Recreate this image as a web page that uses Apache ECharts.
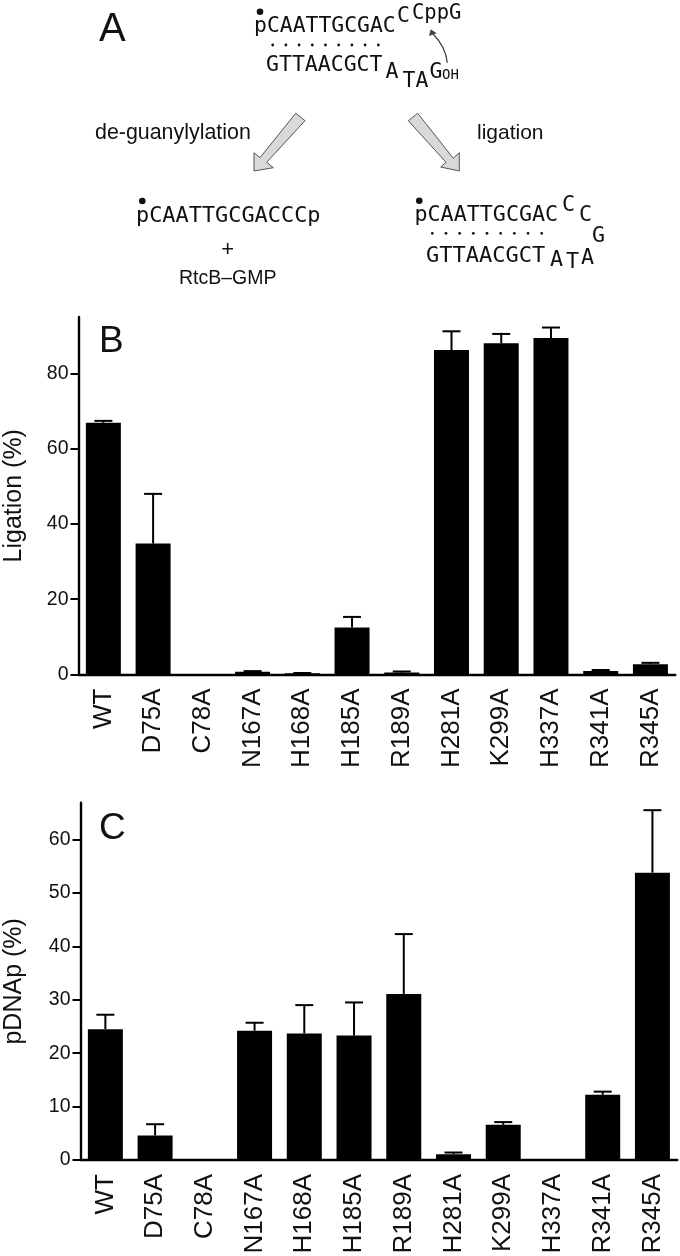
<!DOCTYPE html>
<html>
<head>
<meta charset="utf-8">
<style>html,body{margin:0;padding:0;background:#fff}#c{width:680px;height:1256px}</style>
<script src="https://cdn.jsdelivr.net/npm/echarts@6/dist/echarts.min.js"></script>
</head>
<body>
<div id="c"></div>
<script>
const categories = ['WT','D75A','C78A','N167A','H168A','H185A','R189A','H281A','K299A','H337A','R341A','R345A'];
const ligationMeans = [66.9,34.8,0,0.7,0.3,12.5,0.5,86.2,88.0,89.4,0.9,2.7];
const ligationCaps  = [67.4,48.0,null,0.9,0.4,15.3,0.8,91.2,90.5,92.2,1.2,3.1];
const pdnapMeans = [24.5,4.6,0.1,24.2,23.7,23.3,31.1,1.1,6.6,0.1,12.2,53.8];
const pdnapCaps  = [27.2,6.7,null,25.7,29.0,29.5,42.3,1.4,7.1,null,12.8,65.5];
const ligationTicks = [0,20,40,60,80];
const pdnapTicks = [0,10,20,30,40,50,60];
const ligationMax = 95;
const pdnapMax = 66.9;

const SANS = '"Liberation Sans", Arial, sans-serif';
const MONO = '"DejaVu Sans Mono", monospace';

function txt(text, x, base, size, family, align) {
  return {type:'text', silent:true, style:{text, x, y:base-0.305*size, fill:'#111',
    font:size+'px '+family, align:align||'left', verticalAlign:'middle'}};
}
function dot(cx, cy, r) {
  return {type:'circle', silent:true, shape:{cx,cy,r}, style:{fill:'#111'}};
}
function dotRow(x0, x1, y) {
  const out = [];
  for (let k=0;k<9;k++) out.push(dot(x0+(x1-x0)*k/8, y, 1.4));
  return out;
}
function bigArrow(points) {
  return {type:'polygon', silent:true, shape:{points},
    style:{fill:'#d9d9d9', stroke:'#555', lineWidth:1}};
}
const diagram = [
  txt('A', 99, 42, 40, SANS),
  txt('B', 99, 353, 37, SANS),
  txt('C', 99, 840, 37, SANS),
  // substrate
  dot(260,11.7,3.3),
  txt('pCAATTGCGAC', 254, 32.7, 21.4, MONO),
  txt('C', 397, 22.7, 21.4, MONO),
  txt('CppG', 412, 20, 20.5, MONO),
  ...dotRow(272.7,378.3,45),
  txt('GTTAACGCT', 266, 71.7, 21.5, MONO),
  txt('A', 385.5, 79.3, 21.5, MONO),
  txt('T', 402.5, 88.3, 21.5, MONO),
  txt('A', 415.5, 88.3, 21.5, MONO),
  txt('G', 429.5, 79.3, 21.5, MONO),
  txt('OH', 442, 79.3, 14, MONO),
  {type:'bezierCurve', silent:true, shape:{x1:447.3,y1:62.7,cpx1:446,cpy1:50,cpx2:441,cpy2:42,x2:433,y2:34},
    style:{stroke:'#444',lineWidth:1.3,fill:null}},
  {type:'polygon', silent:true, shape:{points:[[430.7,29.3],[429,36],[436.7,33.3]]}, style:{fill:'#444'}},
  // arrows
  bigArrow([[295.7,113.3],[305,120.7],[266.7,162.3],[273.3,167.7],[254,171],[254,152.7],[260,157.7]]),
  bigArrow([[417.7,113.3],[408.3,120.7],[446,162.3],[440.7,167],[459.3,171],[459.3,152.7],[453.3,158.3]]),
  txt('de-guanylylation', 95, 140, 21.4, SANS),
  txt('ligation', 477, 140, 21, SANS),
  // products
  dot(142.3,201,3.3),
  txt('pCAATTGCGACCCp', 136, 223.3, 21.9, MONO),
  txt('+', 227.7, 257, 22, SANS, 'center'),
  txt('RtcB\u2013GMP', 179, 285, 19.5, SANS),
  dot(419.3,200.7,3.3),
  txt('pCAATTGCGAC', 414.5, 222.3, 21.7, MONO),
  txt('C', 562, 212.3, 21.7, MONO),
  txt('C', 579, 222.3, 21.7, MONO),
  txt('G', 592, 243.3, 21.7, MONO),
  ...dotRow(432.3,541.7,233.3),
  txt('GTTAACGCT', 426, 262.7, 22, MONO),
  txt('A', 550, 267.3, 21.7, MONO),
  txt('T', 566, 269.3, 21.7, MONO),
  txt('A', 581, 265, 21.7, MONO),
];

const labelFont = {color:'#111', fontFamily:SANS};
function xAxisFor(i) {
  return {type:'category', gridIndex:i, data:categories, boundaryGap:true,
    axisLine:{lineStyle:{color:'#000',width:2.4}},
    axisTick:{alignWithLabel:true,length:7,lineStyle:{color:'#000',width:2}},
    axisLabel:{...labelFont,fontSize:26,rotate:90,margin:14,interval:0,hideOverlap:false}};
}
function yAxisFor(i, max, ticks, name, gap) {
  return {type:'value', gridIndex:i, min:0, max,
    name, nameLocation:'middle', nameRotate:90, nameGap:gap,
    nameTextStyle:{...labelFont,fontSize:25},
    splitLine:{show:false},
    axisLine:{show:true,lineStyle:{color:'#000',width:2.4}},
    axisTick:{show:true,length:8,customValues:ticks,lineStyle:{color:'#000',width:2}},
    axisLabel:{...labelFont,fontSize:19.5,margin:10,customValues:ticks}};
}
function barSeries(i, values) {
  return {type:'bar', xAxisIndex:i, yAxisIndex:i, data:values, barWidth:35,
    itemStyle:{color:'#000'}, silent:true};
}
function errorSeries(i, values, caps) {
  const rows = categories.map((c,k)=>[k, values[k], caps[k]]).filter(r=>r[2]!==null);
  return {type:'custom', xAxisIndex:i, yAxisIndex:i, data:rows, silent:true, z:1,
    encode:{x:0,y:[1,2]},
    renderItem(params, api) {
      const a = api.coord([api.value(0), api.value(1)]);
      const b = api.coord([api.value(0), api.value(2)]);
      const st = {stroke:'#000', lineWidth:2};
      return {type:'group', children:[
        {type:'line', shape:{x1:a[0],y1:a[1],x2:b[0],y2:b[1]}, style:st},
        {type:'line', shape:{x1:b[0]-9,y1:b[1],x2:b[0]+9,y2:b[1]}, style:st}
      ]};
    }};
}

const chart = echarts.init(document.getElementById('c'), null, {renderer:'canvas', width:680, height:1256});
chart.setOption({
  animation:false,
  backgroundColor:'#fff',
  grid:[
    {left:78.5, width:596.8, top:317, height:357.5, containLabel:false, outerBoundsMode:'none'},
    {left:80.5, width:596.8, top:802.7, height:357.3, containLabel:false, outerBoundsMode:'none'}
  ],
  xAxis:[xAxisFor(0), xAxisFor(1)],
  yAxis:[
    yAxisFor(0, ligationMax, ligationTicks, 'Ligation (%)', 52),
    yAxisFor(1, pdnapMax, pdnapTicks, 'pDNAp (%)', 54)
  ],
  series:[
    barSeries(0, ligationMeans), errorSeries(0, ligationMeans, ligationCaps),
    barSeries(1, pdnapMeans), errorSeries(1, pdnapMeans, pdnapCaps)
  ],
  graphic:{elements:diagram}
});
</script>
</body>
</html>
